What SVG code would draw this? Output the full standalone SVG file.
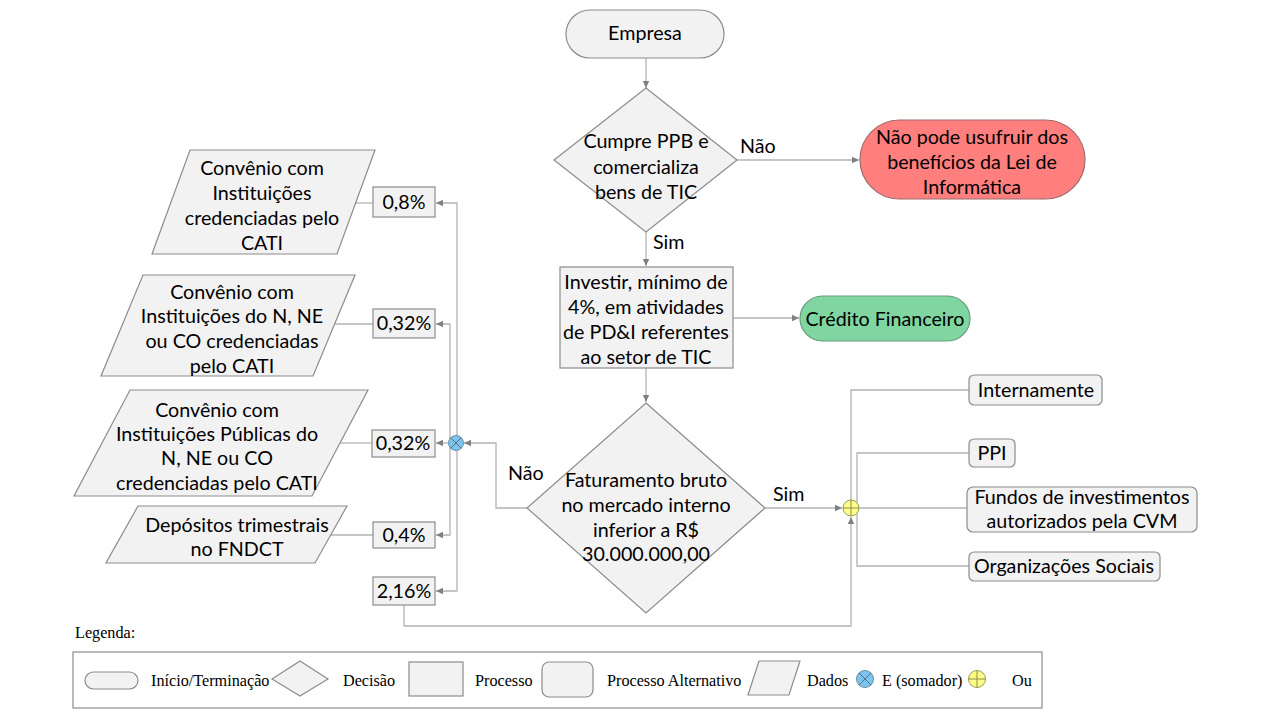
<svg xmlns="http://www.w3.org/2000/svg" width="1280" height="720" viewBox="0 0 1280 720">
<defs>
<marker id="arr" markerUnits="userSpaceOnUse" markerWidth="8" markerHeight="8" refX="7" refY="4" orient="auto">
<path d="M0,0.8 L7,4 L0,7.2 Z" fill="#808080"/>
</marker>
<style>
.shape{fill:#f2f2f2;stroke:#8c8c8c;stroke-width:1.2}
.conn{fill:none;stroke:#b3b3b3;stroke-width:1.3}
.t{font-family:Lato,"Open Sans",sans-serif;font-size:19.7px;fill:#000;text-anchor:middle}
.tl{font-family:Lato,"Open Sans",sans-serif;font-size:19.7px;fill:#000}
.lg{font-family:"Liberation Serif",serif;font-size:16.2px;fill:#000}
</style>
</defs>
<rect width="1280" height="720" fill="#fff"/>

<g id="connectors">
<path class="conn" d="M646,58 V88" marker-end="url(#arr)"/>
<path class="conn" d="M737,160 H859" marker-end="url(#arr)"/>
<path class="conn" d="M646,232 V266" marker-end="url(#arr)"/>
<path class="conn" d="M733,318 H799" marker-end="url(#arr)"/>
<path class="conn" d="M646,368 V402" marker-end="url(#arr)"/>
<path class="conn" d="M527,508 H496 V443 H464" marker-end="url(#arr)"/>
<path class="conn" d="M457,436 V203 H436" marker-end="url(#arr)"/>
<path class="conn" d="M457,451 V591 H436" marker-end="url(#arr)"/>
<path class="conn" d="M450,440 V324 H436" marker-end="url(#arr)"/>
<path class="conn" d="M450,446 V535 H436" marker-end="url(#arr)"/>
<path class="conn" d="M448,443 H436" marker-end="url(#arr)"/>
<path class="conn" d="M356,203 H373"/>
<path class="conn" d="M335,324 H373"/>
<path class="conn" d="M340,443 H372"/>
<path class="conn" d="M331,535 H373"/>
<path class="conn" d="M765,508 H842" marker-end="url(#arr)"/>
<path class="conn" d="M404,605 V626 H851 V517" marker-end="url(#arr)"/>
<path class="conn" d="M851,500 V390 H969"/>
<path class="conn" d="M859,508 H967"/>
<path class="conn" d="M969,453 H857 V566 H969"/>
</g>

<g id="empresa">
<rect class="shape" x="566" y="10" width="158" height="48" rx="24"/>
<text class="t" x="645" y="40">Empresa</text>
</g>

<g id="decisao1">
<polygon class="shape" points="646,88 737,160 646,232 554,160"/>
<text class="t" x="646" y="148">Cumpre PPB e</text>
<text class="t" x="646" y="174">comercializa</text>
<text class="t" x="646" y="199">bens de TIC</text>
</g>
<text class="tl" x="740" y="153">Não</text>
<text class="tl" x="653" y="249">Sim</text>

<g id="nao-pode">
<rect x="860" y="120" width="225" height="79" rx="39.5" fill="#ff7f7f" stroke="#a06a6a" stroke-width="1.2"/>
<text class="t" x="972" y="144">Não pode usufruir dos</text>
<text class="t" x="972" y="169">benefícios da Lei de</text>
<text class="t" x="972" y="194">Informática</text>
</g>

<g id="investir">
<rect class="shape" x="560" y="267" width="173" height="101"/>
<text class="t" x="646" y="289">Investir, mínimo de</text>
<text class="t" x="646" y="314">4%, em atividades</text>
<text class="t" x="646" y="339">de PD&amp;I referentes</text>
<text class="t" x="646" y="364">ao setor de TIC</text>
</g>

<g id="credito">
<rect x="800" y="296" width="170" height="45" rx="22.5" fill="#7fd6a0" stroke="#6a9a7e" stroke-width="1.2"/>
<text class="t" x="885" y="326">Crédito Financeiro</text>
</g>

<g id="decisao2">
<polygon class="shape" points="646,403 765,508 646,613 527,508"/>
<text class="t" x="646" y="487">Faturamento bruto</text>
<text class="t" x="646" y="512">no mercado interno</text>
<text class="t" x="646" y="537">inferior a R$</text>
<text class="t" x="646" y="561">30.000.000,00</text>
</g>
<text class="tl" x="508" y="480">Não</text>
<text class="tl" x="773" y="501">Sim</text>

<g id="somador">
<circle cx="456" cy="443" r="7.5" fill="#7cc4ee" stroke="#6b8fa8" stroke-width="1"/>
<path d="M450.7,437.7 L461.3,448.3 M461.3,437.7 L450.7,448.3" stroke="#5a6f80" stroke-width="1"/>
</g>

<g id="ou">
<circle cx="851" cy="508" r="8" fill="#ffff88" stroke="#9a9a60" stroke-width="1"/>
<path d="M843,508 H859 M851,500 V516" stroke="#8a8a50" stroke-width="1"/>
</g>

<g id="p08">
<rect class="shape" x="373" y="187" width="62" height="30"/>
<text class="t" x="404" y="209">0,8%</text>
</g>
<g id="p032a">
<rect class="shape" x="373" y="309" width="62" height="29"/>
<text class="t" x="404" y="330">0,32%</text>
</g>
<g id="p032b">
<rect class="shape" x="372" y="430" width="63" height="27"/>
<text class="t" x="403" y="450">0,32%</text>
</g>
<g id="p04">
<rect class="shape" x="373" y="522" width="62" height="26"/>
<text class="t" x="404" y="542">0,4%</text>
</g>
<g id="p216">
<rect class="shape" x="373" y="577" width="62" height="28"/>
<text class="t" x="404" y="598">2,16%</text>
</g>

<g id="dados1">
<polygon class="shape" points="190,150 375,150 337,254 152,254"/>
<text class="t" x="262" y="175">Convênio com</text>
<text class="t" x="262" y="200">Instituições</text>
<text class="t" x="262" y="225">credenciadas pelo</text>
<text class="t" x="262" y="250">CATI</text>
</g>
<g id="dados2">
<polygon class="shape" points="143,275 355,275 313,376 101,376"/>
<text class="t" x="232" y="299">Convênio com</text>
<text class="t" x="232" y="323">Instituições do N, NE</text>
<text class="t" x="232" y="348">ou CO credenciadas</text>
<text class="t" x="232" y="373">pelo CATI</text>
</g>
<g id="dados3">
<polygon class="shape" points="130,390 368,390 312,496 74,496"/>
<text class="t" x="217" y="417">Convênio com</text>
<text class="t" x="217" y="441">Instituições Públicas do</text>
<text class="t" x="217" y="465">N, NE ou CO</text>
<text class="t" x="217" y="490">credenciadas pelo CATI</text>
</g>
<g id="dados4">
<polygon class="shape" points="138,506 347,506 315,563 106,563"/>
<text class="t" x="237" y="532">Depósitos trimestrais</text>
<text class="t" x="237" y="556">no FNDCT</text>
</g>

<g id="internamente">
<rect class="shape" x="969" y="375" width="133" height="30" rx="5"/>
<text class="t" x="1036" y="397">Internamente</text>
</g>
<g id="ppi">
<rect class="shape" x="969" y="439" width="46" height="28" rx="5"/>
<text class="t" x="992" y="460">PPI</text>
</g>
<g id="fundos">
<rect class="shape" x="967" y="487" width="230" height="45" rx="6"/>
<text class="t" x="1082" y="504">Fundos de investimentos</text>
<text class="t" x="1082" y="528">autorizados pela CVM</text>
</g>
<g id="organizacoes">
<rect class="shape" x="969" y="552" width="191" height="29" rx="5"/>
<text class="t" x="1064" y="573">Organizações Sociais</text>
</g>

<g id="legenda">
<text class="lg" x="75" y="638">Legenda:</text>
<rect x="73" y="652" width="969" height="56" fill="#fff" stroke="#8c8c8c" stroke-width="1.2"/>
<rect class="shape" x="85" y="672" width="53" height="17" rx="8.5"/>
<text class="lg" x="151" y="686">Início/Terminação</text>
<polygon class="shape" points="300,661 328,679 300,696 272,679"/>
<text class="lg" x="343" y="686">Decisão</text>
<rect class="shape" x="409" y="662" width="54" height="34"/>
<text class="lg" x="475" y="686">Processo</text>
<rect class="shape" x="542" y="662" width="51" height="35" rx="7"/>
<text class="lg" x="607" y="686">Processo Alternativo</text>
<polygon class="shape" points="759,661 800,661 789,695 748,695"/>
<text class="lg" x="807" y="686">Dados</text>
<circle cx="865" cy="679" r="8.5" fill="#7cc4ee" stroke="#6b8fa8" stroke-width="1"/>
<path d="M859,673 L871,685 M871,673 L859,685" stroke="#5a6f80" stroke-width="1"/>
<text class="lg" x="882" y="686">E (somador)</text>
<circle cx="977" cy="679" r="8.5" fill="#ffff88" stroke="#9a9a60" stroke-width="1"/>
<path d="M968.5,679 H985.5 M977,670.5 V687.5" stroke="#8a8a50" stroke-width="1"/>
<text class="lg" x="1012" y="686">Ou</text>
</g>
</svg>
